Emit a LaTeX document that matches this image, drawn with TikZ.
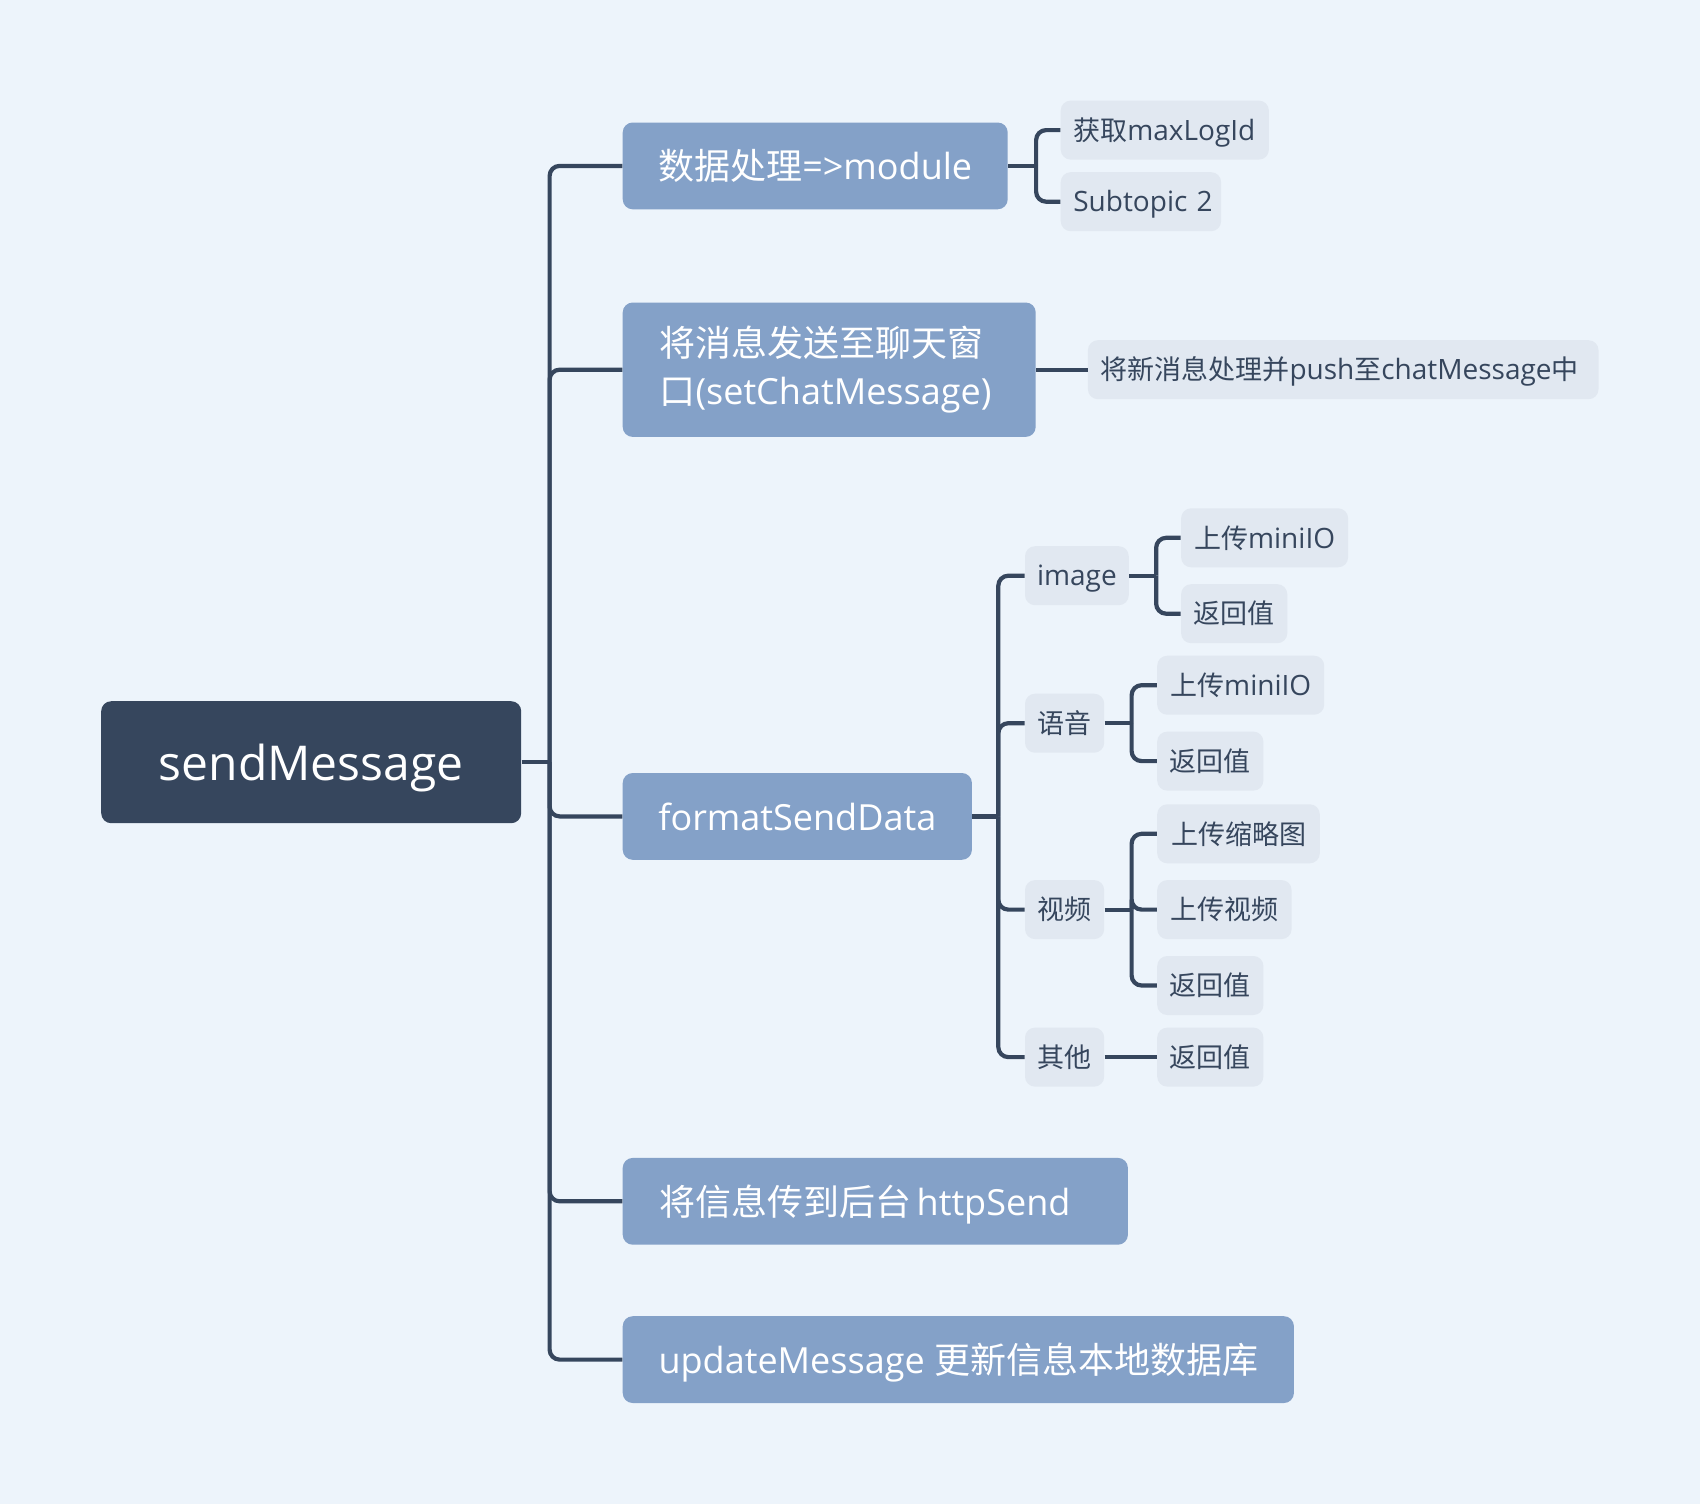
\documentclass[tikz,border=0pt]{standalone}
\usepackage{fontspec}
\setmainfont{Open Sans}
\newfontfamily\cjk{Noto Sans CJK SC}
\newfontfamily\leafcjk[Scale=0.9643]{Noto Sans CJK SC}
\usetikzlibrary{positioning}
\definecolor{mapBack}{HTML}{EDF4FB}
\definecolor{mapNavy}{HTML}{36465D}
\definecolor{mapBlue}{HTML}{84A1C8}
\definecolor{mapLeaf}{HTML}{E1E8F1}

\tikzset{
  rootbox/.style={rectangle, rounded corners=5pt, fill=mapNavy, text=white,
    minimum height=61pt, inner xsep=0pt, anchor=west,
    text height=20.2pt, text depth=1.9pt,
    font=\fontsize{24}{29}\selectfont},
  branchbox/.style={rectangle, rounded corners=5pt, fill=mapBlue, text=white,
    minimum height=43.4pt, inner xsep=16pt, anchor=west, align=left,
    text height=15.1pt, text depth=1.4pt,
    font=\fontsize{18}{23.9}\selectfont},
  leafbox/.style={rectangle, rounded corners=5pt, fill=mapLeaf, text=mapNavy,
    minimum height=29.5pt, inner xsep=6pt, anchor=west,
    text height=11.3pt, text depth=1.1pt,
    font=\fontsize{14}{16}\selectfont},
  leftset/.style={text width=#1, align=left},
  link/.style={draw=mapNavy, line width=2.1pt, rounded corners=5pt},
}

\begin{document}
\begin{tikzpicture}[x=0.5pt, y=-0.5pt]
  \fill[mapBack] (0,0) rectangle (1700,1504);
  \useasboundingbox (0,0) rectangle (1700,1504);

  % root
  \node[rootbox, minimum width=210pt] (root) at (100.8,762.2) {sendMessage};

  % main branches
  \node[branchbox, minimum width=192.5pt] (b1) at (622.3,165.9) {{\cjk 数据处理}=>module};
  \node[branchbox, inner xsep=18.4pt, text height=, text depth=, leftset=169.7pt,
        minimum height=67.2pt] (b2) at (622.3,369.7)
       {{\cjk 将消息发送至聊天窗}\\{\cjk 口}(setChatMessage)};
  \node[branchbox, minimum width=174.6pt] (b3) at (622.3,816.4) {formatSendData};
  \node[branchbox, inner xsep=18.4pt, leftset=215.8pt] (b4) at (622.3,1201.3)
       {\mbox{{\cjk 将信息传到后台}\hspace{2.6pt}httpSend}};
  \node[branchbox, minimum width=335.6pt] (b5) at (622.3,1359.6) {updateMessage {\cjk 更新信息本地数据库}};

  % children of b1, b2
  \node[leafbox, inner xsep=6.3pt, leftset=91.5pt] (c11) at (1060.3,130.1)
       {\mbox{{\leafcjk 获取}maxLogId}};
  \node[leafbox, inner xsep=6.3pt, leftset=67.6pt] (c12) at (1060.3,201.7) {\mbox{Subtopic 2}};
  \node[leafbox, inner xsep=6.3pt, leftset=242.7pt] (c21) at (1087.5,369.7)
       {\mbox{{\leafcjk 将新消息处理并}push{\leafcjk 至}chatMessage{\leafcjk 中}}};

  % children of b3
  \node[leafbox, minimum width=51.5pt] (d1) at (1024.6,575.7) {image};
  \node[leafbox, minimum width=39.6pt] (d2) at (1024.6,723.2) {\leafcjk 语音};
  \node[leafbox, minimum width=39.6pt] (d3) at (1024.6,909.6) {\leafcjk 视频};
  \node[leafbox, minimum width=39.6pt] (d4) at (1024.6,1057.1) {\leafcjk 其他};

  % grandchildren
  \node[leafbox, minimum width=83.5pt] (e11) at (1180.7,537.8) {{\leafcjk 上传}miniIO};
  \node[leafbox, minimum width=53.1pt] (e12) at (1180.7,613.7) {\leafcjk 返回值};
  \node[leafbox, minimum width=83.5pt] (e21) at (1156.8,685.2) {{\leafcjk 上传}miniIO};
  \node[leafbox, minimum width=53.1pt] (e22) at (1156.8,761.1) {\leafcjk 返回值};
  \node[leafbox, minimum width=81.3pt] (e31) at (1156.8,833.8) {\leafcjk 上传缩略图};
  \node[leafbox, minimum width=67.2pt] (e32) at (1156.8,909.6) {\leafcjk 上传视频};
  \node[leafbox, minimum width=53.1pt] (e33) at (1156.8,985.5) {\leafcjk 返回值};
  \node[leafbox, minimum width=53.1pt] (e41) at (1156.8,1057.1) {\leafcjk 返回值};

  % forks
  \path (root.east) -- ++(14pt,0) coordinate (rootfork);
  \path (b1.east) -- ++(14pt,0) coordinate (b1fork);
  \path (b3.east) -- ++(13pt,0) coordinate (b3fork);
  \path (d1.east) -- ++(13.5pt,0) coordinate (d1fork);
  \path (d2.east) -- ++(13.5pt,0) coordinate (d2fork);
  \path (d3.east) -- ++(13.5pt,0) coordinate (d3fork);

  % connectors
  \draw[link] (root.east) -- (rootfork);
  \foreach \b in {b1,b2,b3,b4,b5}
    \draw[link] (rootfork) |- (\b.west);
  \draw[link] (b1.east) -- (b1fork);
  \foreach \c in {c11,c12}
    \draw[link] (b1fork) |- (\c.west);
  \draw[link] (b2.east) -- (c21.west);
  \draw[link] (b3.east) -- (b3fork);
  \foreach \d in {d1,d2,d3,d4}
    \draw[link] (b3fork) |- (\d.west);
  \draw[link] (d1.east) -- (d1fork);
  \foreach \e in {e11,e12}
    \draw[link] (d1fork) |- (\e.west);
  \draw[link] (d2.east) -- (d2fork);
  \foreach \e in {e21,e22}
    \draw[link] (d2fork) |- (\e.west);
  \draw[link] (d3.east) -- (d3fork);
  \foreach \e in {e31,e32,e33}
    \draw[link] (d3fork) |- (\e.west);
  \draw[link] (d4.east) -- (e41.west);
\end{tikzpicture}
\end{document}
